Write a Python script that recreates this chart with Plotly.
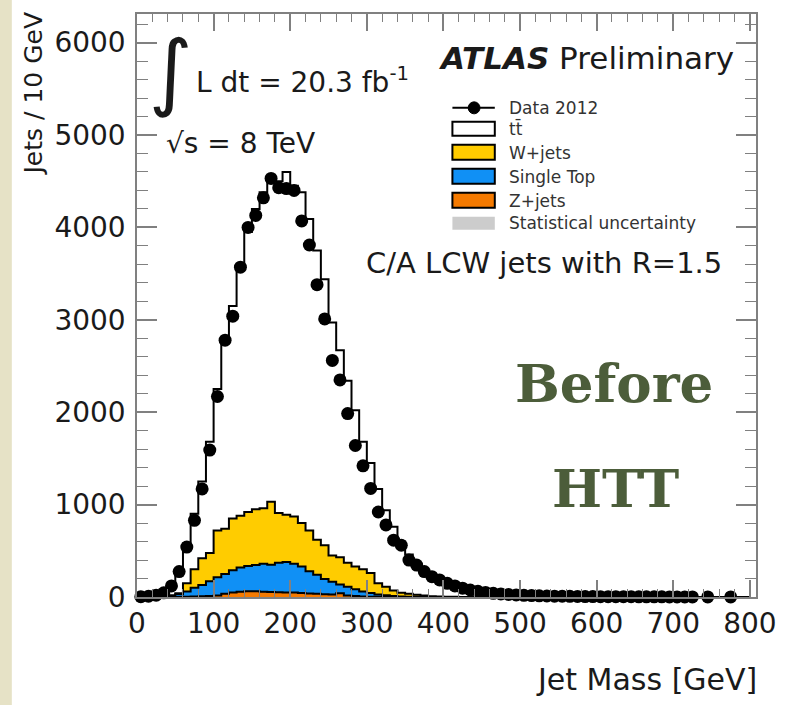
import plotly.graph_objects as go

# ---------------- data ----------------
bin_edges = list(range(0, 810, 10))  # 10 GeV bins, 0..800

zjets = [0, 0, 0, 0, 0, 1, 3, 5, 8, 10, 15, 35, 50, 56, 62, 62, 58, 55, 52, 50,
         48, 42, 38, 34, 30, 28, 40, 16, 10, 6, 4, 2, 1, 1, 0, 0, 0, 0, 0, 0] + [0] * 40

singletop = [0, 0, 0, 3, 10, 29, 57, 95, 122, 160, 200, 215, 240, 264, 273, 283, 302, 295, 318, 330,
             312, 288, 242, 206, 165, 137, 95, 94, 75, 54, 38, 26, 17, 9, 6, 4, 2, 2, 1, 1] + [0] * 40

wjets = [0, 0, 2, 7, 10, 10, 90, 200, 290, 305, 505, 490, 560, 560, 585, 605, 600, 680, 540, 510,
         510, 470, 440, 380, 365, 285, 295, 260, 245, 240, 218, 122, 92, 60, 39, 31, 23, 13, 7, 4,
         3, 2, 1] + [0] * 37

ttbar = [3, 8, 20, 45, 120, 260, 430, 600, 830, 1205, 1530, 2010, 2300, 2720, 3030, 3250, 3420, 3470, 3590, 3710,
         3580, 3580, 3370, 3130, 2880, 2520, 2240, 1970, 1690, 1380, 1190, 1020, 830, 690, 555, 425, 325, 250, 192, 145,
         109, 83, 63, 48, 36, 27, 20, 15, 11, 8, 6, 5, 4, 3, 2.5, 2, 1.5, 1.5, 1.5, 1.5] + [1] * 10 + [0.5] * 10

data_mass = list(range(5, 735, 10)) + [745, 775]
data_jets = [3, 8, 20, 45, 120, 275, 540, 830, 1170, 1590,
             2170, 2780, 3040, 3570, 4000,
             4130, 4320, 4530, 4430, 4420,
             4400, 4070, 3810, 3380, 3010,
             2560, 2350, 1985, 1640, 1420,
             1175, 920, 780, 615, 560,
             400, 345, 275, 220, 185,
             148, 120, 95, 76, 62,
             50, 40, 33, 27, 22,
             18, 15, 13, 11, 9,
             8, 7, 6, 5, 5,
             4, 4, 3, 3, 3,
             2, 2, 2, 2, 1,
             1, 1, 1,
             1, 1]

x_ticks = [0, 100, 200, 300, 400, 500, 600, 700, 800]
y_ticks = [0, 1000, 2000, 3000, 4000, 5000, 6000]

legend_labels = ["Data 2012", "tt\u0304", "W+jets", "Single Top", "Z+jets", "Statistical uncertainty"]

# ---------------- styling ----------------
C_Y = "#ffcc00"
C_B = "#1090f5"
C_O = "#f57a00"
SANS = "DejaVu Sans"

W, H = 789, 705
L, R, T, B = 137, 765, 13, 597  # plot area in pixels


def px(x):
    return (x - L) / (R - L)


def py(y):
    return (B - y) / (B - T)


# cumulative stack
stack_z = zjets
stack_st = [a + b for a, b in zip(stack_z, singletop)]
stack_w = [a + b for a, b in zip(stack_st, wjets)]
stack_tt = [a + b for a, b in zip(stack_w, ttbar)]


def step_y(vals):
    return list(vals) + [vals[-1]]


fig = go.Figure()
for vals, col in [(stack_tt, "white"), (stack_w, C_Y), (stack_st, C_B), (stack_z, C_O)]:
    fig.add_trace(go.Scatter(x=bin_edges, y=step_y(vals), mode="lines", line_shape="hv",
                             line=dict(color="black", width=2), fill="tozeroy", fillcolor=col,
                             showlegend=False, hoverinfo="skip"))

fig.add_trace(go.Scatter(x=data_mass, y=data_jets, mode="markers",
                         marker=dict(color="black", size=13, symbol="circle"),
                         cliponaxis=False, showlegend=False))

axis_common = dict(showline=True, linecolor="#808080", linewidth=1.5, mirror="allticks",
                   ticks="inside", tickcolor="#808080", tickwidth=1.5, showgrid=False, zeroline=False,
                   tickfont=dict(family=SANS, size=28, color="#1a1a1a"))

fig.update_xaxes(range=[0, 808], tickvals=x_ticks, ticklen=17,
                 minor=dict(ticks="inside", dtick=20, tick0=0, ticklen=8, tickcolor="#808080", tickwidth=1.2),
                 ticklabelstandoff=1, **axis_common)
fig.update_yaxes(range=[0, 6310], tickvals=y_ticks, ticklen=20,
                 minor=dict(ticks="inside", dtick=200, tick0=0, ticklen=11, tickcolor="#808080", tickwidth=1.2),
                 ticklabelstandoff=4, **axis_common)

shapes = []
# beige strip on the left
shapes.append(dict(type="rect", xref="paper", yref="paper", x0=px(-5), x1=px(10), y0=py(710), y1=py(-5),
                   fillcolor="#e6e2c6", line=dict(width=0), layer="below"))

# legend keys
shapes.append(dict(type="line", xref="paper", yref="paper", x0=px(457), x1=px(500), y0=py(107), y1=py(107),
                   line=dict(color="black", width=2)))
shapes.append(dict(type="circle", xref="paper", yref="paper", x0=px(473), x1=px(485), y0=py(101), y1=py(113),
                   fillcolor="black", line=dict(color="black", width=1)))
box_rows = [(121, 135, "white"), (144, 159, C_Y), (168, 183, C_B), (192, 207, C_O)]
for y0, y1, col in box_rows:
    shapes.append(dict(type="rect", xref="paper", yref="paper", x0=px(457), x1=px(500), y0=py(y1), y1=py(y0),
                       fillcolor=col, line=dict(color="black", width=2)))
shapes.append(dict(type="rect", xref="paper", yref="paper", x0=px(457), x1=px(500), y0=py(229), y1=py(216),
                   fillcolor="#cccccc", line=dict(width=0)))

annotations = []


def ann(text, x, y, size, xanchor="left", family=SANS, color="#1a1a1a", yanchor="middle", angle=0):
    annotations.append(dict(text=text, x=px(x), y=py(y), xref="paper", yref="paper", showarrow=False,
                            xanchor=xanchor, yanchor=yanchor, textangle=angle,
                            font=dict(family=family, size=size, color=color)))


ann("\u222b", 171, 70, 84, xanchor="center")
ann("L dt = 20.3 fb<sup>-1</sup>", 195, 80, 28)
ann("\u221as = 8 TeV", 164, 143, 28)
ann("<b><i>ATLAS</i></b> Preliminary", 440, 57, 31)
ann("C/A LCW jets with R=1.5", 733, 262, 29, xanchor="right")
leg_y = [107, 128, 152, 176, 200, 222]
for lab, yy in zip(legend_labels, leg_y):
    ann(lab, 512, yy, 17, color="#333333")
ann("<b>Before</b>", 621, 383, 53, xanchor="center", family="DejaVu Serif", color="#4c5d3a")
ann("<b>HTT</b>", 622, 488, 53, xanchor="center", family="DejaVu Serif", color="#4c5d3a")
ann("Jet Mass [GeV]", 768, 680, 30, xanchor="right")
ann("Jets / 10 GeV", 32, 9, 25, xanchor="center", yanchor="top", angle=-90)

fig.update_layout(width=W, height=H, margin=dict(l=L, r=W - R, t=T, b=H - B),
                  paper_bgcolor="white", plot_bgcolor="white", showlegend=False,
                  shapes=shapes, annotations=annotations)

fig.write_html("out.html")
